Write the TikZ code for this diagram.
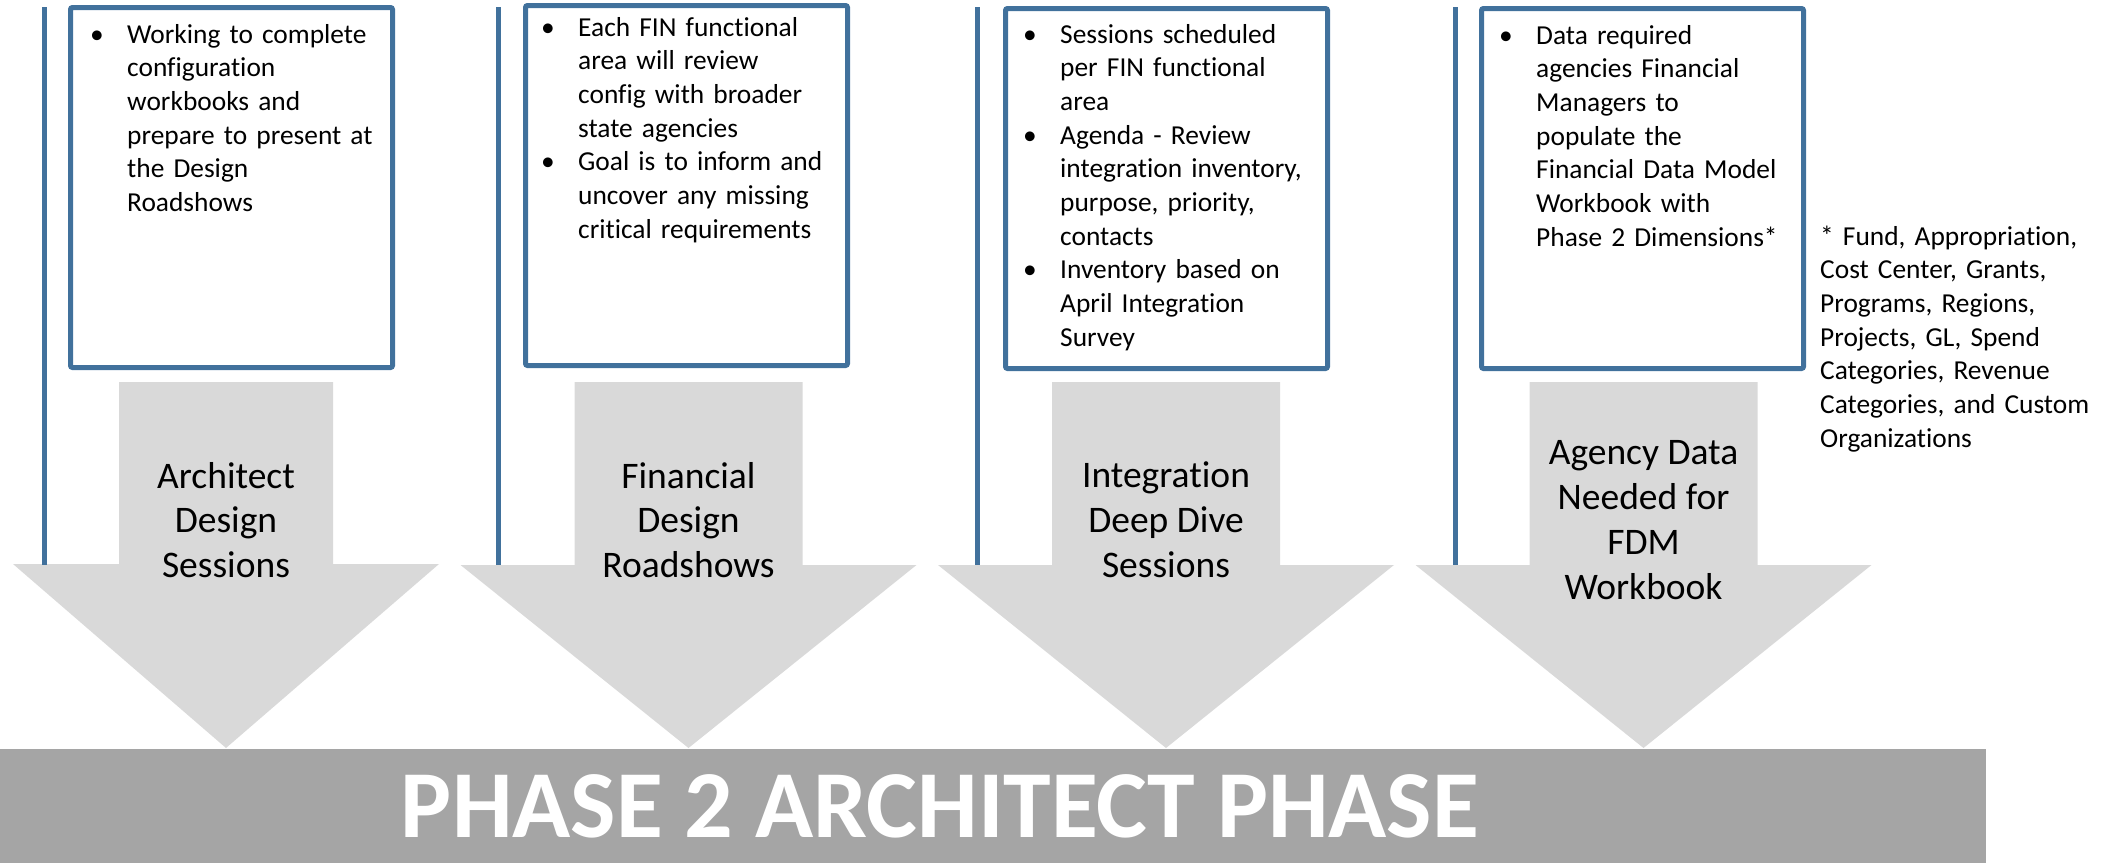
\documentclass[tikz,border=0pt]{standalone}
\usepackage{fontspec}
\setmainfont[Ligatures={NoCommon,NoContextual},Contextuals=NoAlternate]{Carlito}
\definecolor{lineblue}{HTML}{41719C}
\definecolor{arrowgray}{HTML}{D9D9D9}
\definecolor{bargray}{HTML}{A5A5A5}
\newcommand\bul{\makebox[37pt][l]{\textbullet}}
\newcommand\ind{\hspace*{37pt}}
\tikzset{
  notebox/.style={draw=lineblue, line width=5pt, rounded corners=2pt},
  notetext/.style={anchor=base west, inner sep=0pt, text width=330pt, align=left,
    font=\fontsize{27.4}{33.7}\selectfont},
  steplabel/.style={inner sep=0pt, align=center, font=\fontsize{37.5}{44.8}\selectfont},
}
\begin{document}
\begin{tikzpicture}[x=1pt,y=-1pt]
	\useasboundingbox (0,0) rectangle (2118,863);
	% down arrows: centre/half shaft/half head/head top
	\foreach \c/\s/\h/\t [count=\i] in {226/107/213/564,688.5/114/228/565,1166/114/228/565,1643.5/114/228/565}
	\fill[arrowgray] (\c-\s,382) -- (\c+\s,382) -- (\c+\s,\t) -- (\c+\h,\t) -- (\c,748)
	-- (\c-\h,\t) -- (\c-\s,\t) -- cycle;
	% rails and boxes
	\foreach \x in {44,498,977,1455} \draw[lineblue, line width=5pt] (\x,7) -- (\x,565);
	\foreach \l/\t in {70.5/7.5,525.5/5.5,1005.5/8.5,1481.5/8.5} \draw[notebox] (\l,\t) rectangle ++(322,360);
	
	\node[notetext] (note1) at (90,43) {\bul Working to complete\\ \ind configuration\\ \ind workbooks and\\
		\ind prepare to present at\\ \ind the Design\\ \ind Roadshows};
	\node[notetext] (note2) at (541,36) {\bul Each FIN functional\\ \ind area will review\\ \ind config with broader\\
		\ind state agencies\\ \bul Goal is to inform and\\ \ind uncover any missing\\ \ind critical requirements};
	\node[notetext] (note3) at (1023,43) {\bul Sessions scheduled\\ \ind per FIN functional\\ \ind area\\
		\bul Agenda - Review\\ \ind integration inventory,\\ \ind purpose, priority,\\ \ind contacts\\
		\bul Inventory based on\\ \ind April Integration\\ \ind Survey};
	\node[notetext] (note4) at (1499,44) {\bul Data required\\ \ind agencies Financial\\ \ind Managers to\\
		\ind populate the\\ \ind Financial Data Model\\ \ind Workbook with\\ \ind Phase 2 Dimensions*};
	\node[notetext] (dims) at (1820,245) {* Fund, Appropriation,\\ Cost Center, Grants,\\ Programs, Regions,\\
		Projects, GL, Spend\\ Categories, Revenue\\ Categories, and Custom\\ Organizations};
	
	\foreach \c/\txt [count=\i] in {226/{Architect\\Design\\Sessions},688.5/{Financial\\Design\\Roadshows},
		1166/{Integration\\Deep Dive\\Sessions},1643.5/{Agency Data\\Needed for\\FDM\\Workbook}}
	\node[steplabel] (step\i) at (\c,520) {\txt};
	
	\fill[bargray] (0,749) rectangle (1986,863);
	\node[text=white, font=\bfseries\fontsize{96}{96}\selectfont] (phase) at (940,806) {PHASE 2 ARCHITECT PHASE};
\end{tikzpicture}
\end{document}
